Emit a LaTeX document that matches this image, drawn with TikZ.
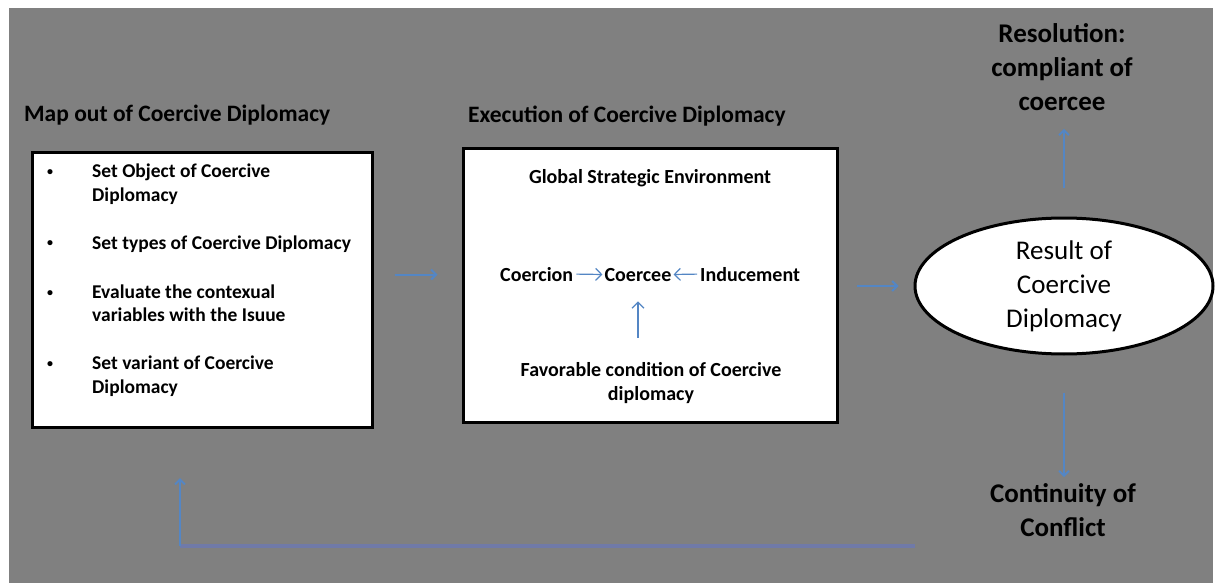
\documentclass[tikz,border=0pt]{standalone}
\usepackage{fontspec}
\setmainfont{Carlito}
\usetikzlibrary{shapes.geometric,arrows.meta,calc}
\definecolor{bg}{RGB}{128,128,128}
\definecolor{arrowblue}{RGB}{84,134,196}
\definecolor{fbline}{RGB}{112,122,168}
\begin{document}
\begin{tikzpicture}[x=1pt,y=-1pt,
  panel/.style={draw=black, line width=3pt, fill=white, inner sep=0pt},
  title/.style={font=\fontsize{23.5}{28}\selectfont\bfseries, anchor=west, inner sep=0pt},
  item/.style={font=\fontsize{19.5}{24}\selectfont\bfseries, anchor=base west, inner sep=0pt},
  bul/.style={font=\fontsize{12}{12}\selectfont\bfseries, anchor=base, inner sep=0pt},
  mid/.style={font=\fontsize{20}{24.5}\selectfont\bfseries, inner sep=0pt, align=center},
  big/.style={font=\fontsize{27}{34}\selectfont\bfseries, inner sep=0pt, align=center},
  flow/.style={draw=arrowblue, line width=2pt, -{Straight Barb[length=5pt,width=10pt]}},
  thinarr/.style={draw=arrowblue, line width=1.2pt, -{Straight Barb[length=6pt,width=12pt]}}]

\useasboundingbox (0,0) rectangle (1219,583);
\fill[white] (0,0) rectangle (1219,583);
\fill[bg] (9,8) rectangle (1213,583);

% titles
\node[title] (t1) at (24,115) {Map out of Coercive Diplomacy};
\node[title] (t2) at (468,116) {Execution of Coercive Diplomacy};

% boxes
\node[panel, minimum width=340, minimum height=274] (mapbox) at (202,290) {};
\node[panel, minimum width=374, minimum height=273] (execbox) at (650,285.5) {};

% left list
\node[bul] (b1) at (50,176) {•};
\node[bul] (b2) at (50,247) {•};
\node[bul] (b3) at (50,296) {•};
\node[bul] (b4) at (50,367) {•};
\node[item] (i1) at (92,178) {\begin{tabular}[t]{@{}l@{}}Set Object of Coercive\\Diplomacy\end{tabular}};
\node[item] (i2) at (92,249) {Set types of Coercive Diplomacy};
\node[item] (i3) at (92,298) {\begin{tabular}[t]{@{}l@{}}Evaluate the contexual\\variables with the Isuue\end{tabular}};
\node[item] (i4) at (92,369) {\begin{tabular}[t]{@{}l@{}}Set variant of Coercive\\Diplomacy\end{tabular}};

% middle content
\node[mid] (gse) at (650,178) {Global Strategic Environment};
\node[mid, anchor=base west] (coercion) at (500,281) {Coercion};
\node[mid, anchor=base] (coercee) at (638,281) {Coercee};
\node[mid, anchor=base west] (induce) at (700,281) {Inducement};
\node[mid] (fav) at (651,383) {Favorable condition of Coercive\\diplomacy};
\draw[thinarr, shorten <=3pt, shorten >=2pt] (coercion.east) -- (coercee.west);
\draw[thinarr, shorten <=3pt, shorten >=2pt] (induce.west) -- (coercee.east);
\draw[thinarr, shorten <=24pt, shorten >=20pt] (fav.north -| coercee.south) -- (coercee.south);

% result ellipse
\node[ellipse, draw=black, line width=3pt, fill=white, minimum width=298, minimum height=136, inner sep=0pt] (res) at (1064,286) {};
\node[font=\fontsize{27}{34}\selectfont, align=center, inner sep=0pt] (restext) at (1064,286) {Result of\\Coercive\\Diplomacy};

\node[big] (resol) at (1062,67) {Resolution:\\compliant of\\coercee};
\node[big] (cont) at (1063,510) {Continuity of\\Conflict};

% connectors
\draw[flow, shorten <=21pt, shorten >=24pt] (mapbox.east |- coercee.west) -- (execbox.west |- coercee.west);
\draw[flow, shorten <=18pt, shorten >=15pt] (execbox.east |- res.west) -- (res.west);
\draw[flow, shorten <=28pt, shorten >=18pt] (res.north) -- (resol.south -| res.north);
\draw[flow, shorten <=37pt, shorten >=6pt] (res.south) -- (cont.north -| res.south);

\coordinate (fbstart) at (915,546);
\coordinate (fbcorner) at (180,546);
\coordinate (fbend) at (180,478);
\draw[fbline, line width=4pt] (fbstart) -- (fbcorner);
\draw[flow] (fbcorner) -- (fbend);
\end{tikzpicture}
\end{document}
